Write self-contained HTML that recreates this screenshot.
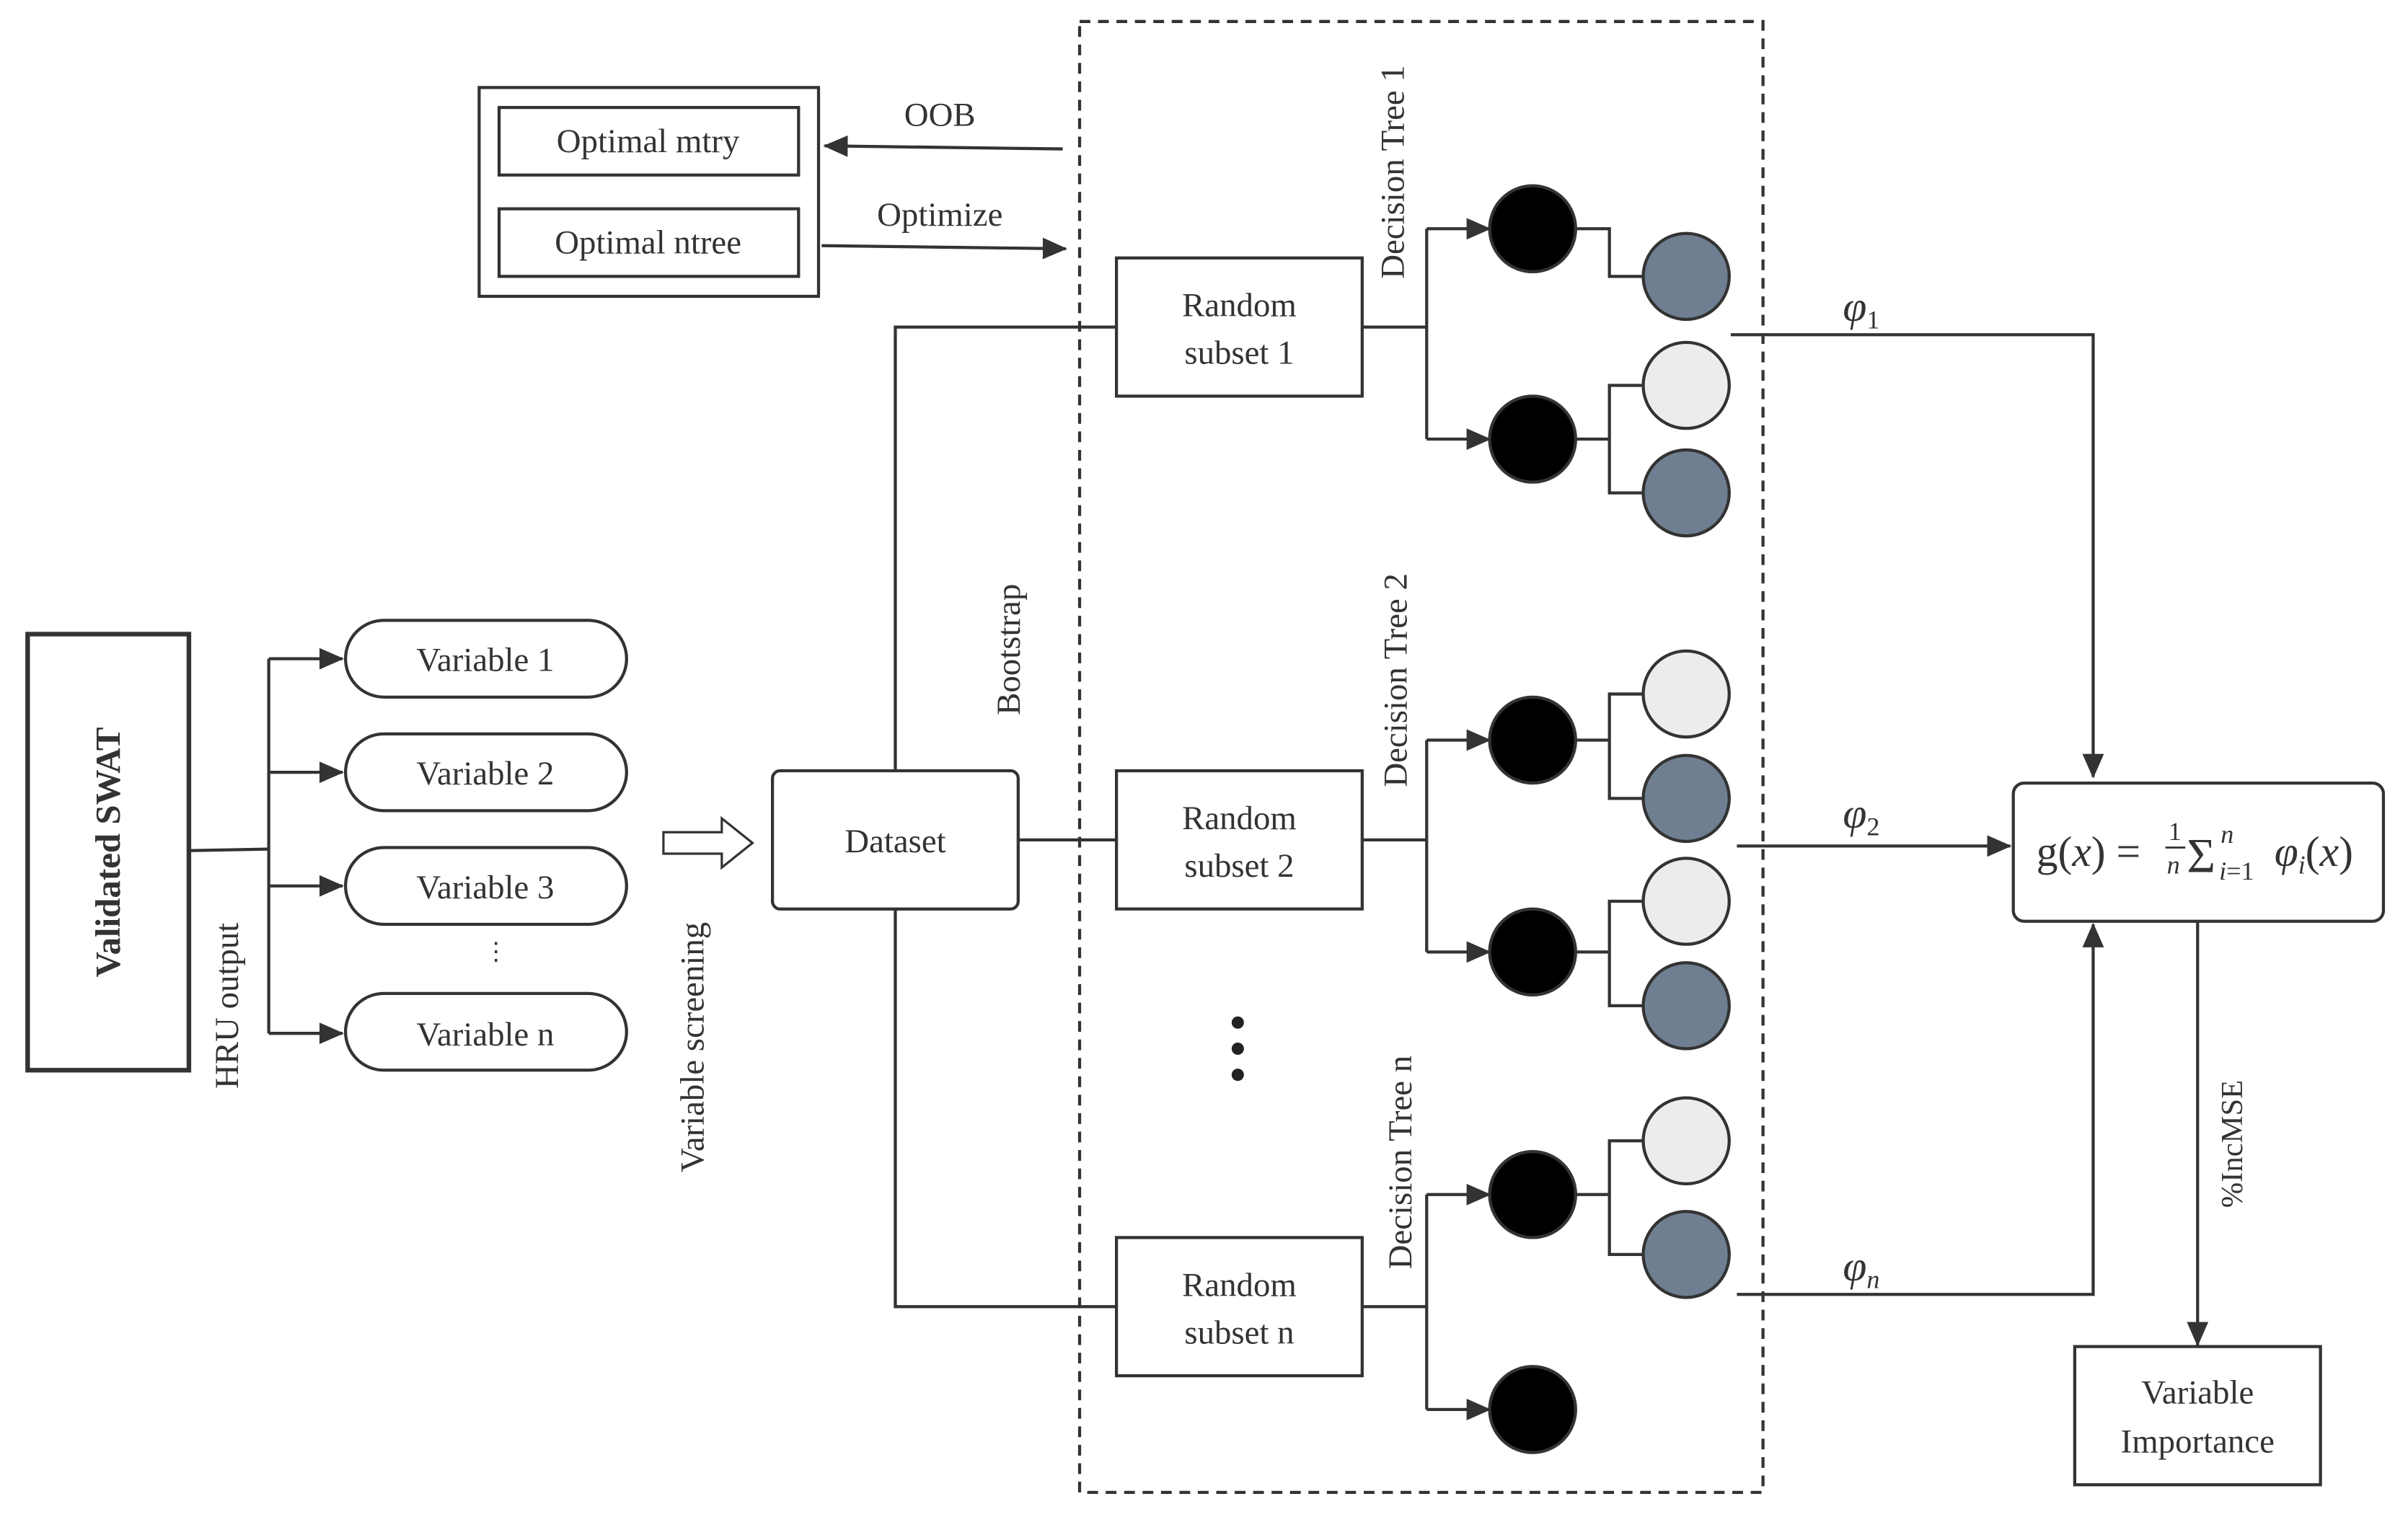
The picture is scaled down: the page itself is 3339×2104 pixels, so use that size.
<!DOCTYPE html>
<html><head><meta charset="utf-8"><style>
html,body{margin:0;padding:0;background:#fff;}
svg{display:block;}
text{font-family:"Liberation Serif",serif;fill:#333;}
</style></head><body>
<svg width="3339" height="2104" viewBox="0 0 1568 988" preserveAspectRatio="none" xmlns="http://www.w3.org/2000/svg">
<defs>
<marker id="b" markerWidth="16" markerHeight="14" refX="15" refY="7" orient="auto" markerUnits="userSpaceOnUse" viewBox="0 0 16 14">
<path d="M0,0 L16,7 L0,14 z" fill="#333"/></marker>
</defs>
<g fill="none" stroke="#333" stroke-width="2">
<rect x="703" y="14" width="445" height="958" stroke-dasharray="7,5"/>
<rect x="312" y="57" width="221" height="136"/>
<rect x="325" y="70" width="195" height="44"/>
<rect x="325" y="136" width="195" height="44"/>
<line x1="692" y1="97" x2="537" y2="95" marker-end="url(#b)"/>
<line x1="535" y1="160" x2="694" y2="162" marker-end="url(#b)"/>
<rect x="18" y="413" width="105" height="284" stroke-width="3"/>
<polyline points="123,554 175,553"/>
<line x1="175" y1="429" x2="175" y2="673"/>
<line x1="175" y1="429" x2="223" y2="429" marker-end="url(#b)"/>
<line x1="175" y1="503" x2="223" y2="503" marker-end="url(#b)"/>
<line x1="175" y1="577" x2="223" y2="577" marker-end="url(#b)"/>
<line x1="175" y1="673" x2="223" y2="673" marker-end="url(#b)"/>
<rect x="225" y="404" width="183" height="50" rx="25"/>
<rect x="225" y="478" width="183" height="50" rx="25"/>
<rect x="225" y="552" width="183" height="50" rx="25"/>
<rect x="225" y="647" width="183" height="50" rx="25"/>
<path d="M432,542 L470,542 L470,533 L490,549 L470,565 L470,556 L432,556 z" stroke-width="1.5"/>
<rect x="503" y="502" width="160" height="90" rx="5"/>
<polyline points="583,502 583,213 727,213"/>
<line x1="663" y1="547" x2="727" y2="547"/>
<polyline points="583,592 583,851 727,851"/>
<rect x="727" y="168" width="160" height="90"/>
<rect x="727" y="502" width="160" height="90"/>
<rect x="727" y="806" width="160" height="90"/>
<line x1="887" y1="213" x2="929" y2="213"/>
<line x1="929" y1="149" x2="929" y2="286"/>
<line x1="929" y1="149" x2="970" y2="149" marker-end="url(#b)"/>
<line x1="929" y1="286" x2="970" y2="286" marker-end="url(#b)"/>
<polyline points="1026,149 1048,149 1048,180 1070,180"/>
<line x1="1026" y1="286" x2="1048" y2="286"/>
<polyline points="1070,251 1048,251 1048,321 1070,321"/>
<line x1="887" y1="547" x2="929" y2="547"/>
<line x1="929" y1="482" x2="929" y2="620"/>
<line x1="929" y1="482" x2="970" y2="482" marker-end="url(#b)"/>
<line x1="929" y1="620" x2="970" y2="620" marker-end="url(#b)"/>
<line x1="1026" y1="482" x2="1048" y2="482"/>
<polyline points="1070,452 1048,452 1048,520 1070,520"/>
<line x1="1026" y1="620" x2="1048" y2="620"/>
<polyline points="1070,587 1048,587 1048,655 1070,655"/>
<line x1="887" y1="851" x2="929" y2="851"/>
<line x1="929" y1="778" x2="929" y2="918"/>
<line x1="929" y1="778" x2="970" y2="778" marker-end="url(#b)"/>
<line x1="929" y1="918" x2="970" y2="918" marker-end="url(#b)"/>
<line x1="1026" y1="778" x2="1048" y2="778"/>
<polyline points="1070,743 1048,743 1048,817 1070,817"/>
<polyline points="1127,218 1363,218 1363,506" marker-end="url(#b)"/>
<line x1="1131" y1="551" x2="1309" y2="551" marker-end="url(#b)"/>
<polyline points="1131,843 1363,843 1363,602" marker-end="url(#b)"/>
<rect x="1311" y="510" width="241" height="90" rx="7"/>
<line x1="1431" y1="600" x2="1431" y2="876" marker-end="url(#b)"/>
<rect x="1351" y="877" width="160" height="90"/>
</g>
<g stroke="#333" stroke-width="2">
<circle cx="998" cy="149" r="28" fill="#000"/>
<circle cx="998" cy="286" r="28" fill="#000"/>
<circle cx="998" cy="482" r="28" fill="#000"/>
<circle cx="998" cy="620" r="28" fill="#000"/>
<circle cx="998" cy="778" r="28" fill="#000"/>
<circle cx="998" cy="918" r="28" fill="#000"/>
<circle cx="1098" cy="180" r="28" fill="#6f7f91"/>
<circle cx="1098" cy="251" r="28" fill="#ececec"/>
<circle cx="1098" cy="321" r="28" fill="#6f7f91"/>
<circle cx="1098" cy="452" r="28" fill="#ececec"/>
<circle cx="1098" cy="520" r="28" fill="#6f7f91"/>
<circle cx="1098" cy="587" r="28" fill="#ececec"/>
<circle cx="1098" cy="655" r="28" fill="#6f7f91"/>
<circle cx="1098" cy="743" r="28" fill="#ececec"/>
<circle cx="1098" cy="817" r="28" fill="#6f7f91"/>
</g>
<circle cx="806" cy="666" r="4" fill="#222"/>
<circle cx="806" cy="683" r="4" fill="#222"/>
<circle cx="806" cy="700" r="4" fill="#222"/>
<g font-size="22" text-anchor="middle">
<text x="422" y="99">Optimal mtry</text>
<text x="422" y="165">Optimal ntree</text>
<text x="612" y="82">OOB</text>
<text x="612" y="147">Optimize</text>
<text x="316" y="437">Variable 1</text>
<text x="316" y="511">Variable 2</text>
<text x="316" y="585">Variable 3</text>
<text x="323" y="625" font-size="16">⋮</text>
<text x="316" y="681">Variable n</text>
<text x="583" y="555">Dataset</text>
<text x="807" y="206">Random</text><text x="807" y="237">subset 1</text>
<text x="807" y="540">Random</text><text x="807" y="571">subset 2</text>
<text x="807" y="844">Random</text><text x="807" y="875">subset n</text>
<text x="1431" y="914">Variable</text><text x="1431" y="946">Importance</text>
<text transform="translate(78,555) rotate(-90)" font-weight="bold" font-size="23">Validated SWAT</text>
<text transform="translate(155,655) rotate(-90)">HRU output</text>
<text transform="translate(458,682) rotate(-90)">Variable screening</text>
<text transform="translate(664,423) rotate(-90)">Bootstrap</text>
<text transform="translate(914,112) rotate(-90)">Decision Tree 1</text>
<text transform="translate(916,443) rotate(-90)">Decision Tree 2</text>
<text transform="translate(919,757) rotate(-90)">Decision Tree n</text>
<text transform="translate(1460,745) rotate(-90)" font-size="20">%IncMSE</text>
<text x="1212" y="209" font-style="italic" font-size="28">φ<tspan font-size="17" dy="5" font-style="normal">1</tspan></text>
<text x="1212" y="539" font-style="italic" font-size="28">φ<tspan font-size="17" dy="5" font-style="normal">2</tspan></text>
<text x="1212" y="834" font-style="italic" font-size="28">φ<tspan font-size="17" dy="5">n</tspan></text>
</g>
<g font-size="28">
<text x="1326" y="564">g(<tspan font-style="italic">x</tspan>) =</text>
<text x="1412" y="547" font-size="17">1</text>
<line x1="1410" y1="552" x2="1423" y2="552" stroke="#333" stroke-width="1.3"/>
<text x="1411" y="569" font-size="17" font-style="italic">n</text>
<text x="1424" y="568" font-size="32">Σ</text>
<text x="1446" y="549" font-size="17" font-style="italic">n</text>
<text x="1445" y="573" font-size="17"><tspan font-style="italic">i</tspan>=1</text>
<text x="1481" y="564"><tspan font-style="italic">φ</tspan><tspan font-size="17" dy="5" font-style="italic">i</tspan><tspan dy="-5">(</tspan><tspan font-style="italic">x</tspan>)</text>
</g>
</svg>
</body></html>
